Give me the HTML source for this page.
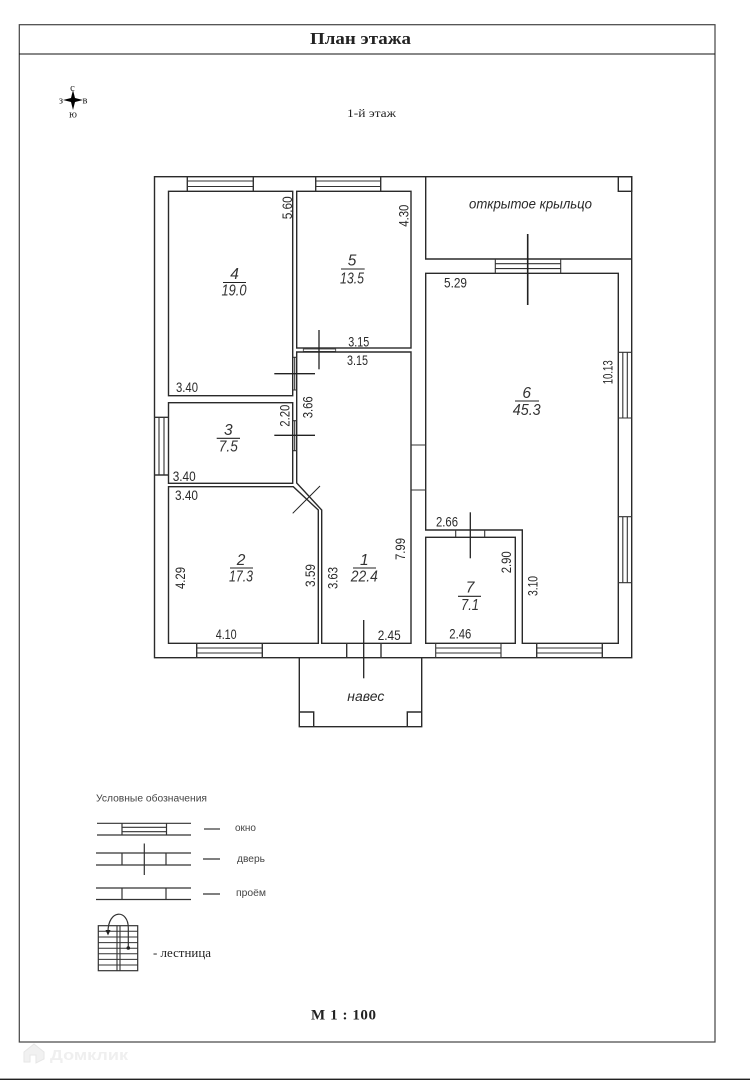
<!DOCTYPE html>
<html lang="ru">
<head>
<meta charset="utf-8">
<title>План этажа</title>
<style>
html,body{margin:0;padding:0;background:#fff;width:750px;height:1080px;overflow:hidden}
svg{display:block;filter:blur(0.35px)}
.w{fill:none;stroke:#2a2a2a;stroke-width:1.4}
.t{stroke:#333;stroke-width:1.1;fill:none}
.d{stroke:#333;stroke-width:1.4;fill:none}
.n{font-family:"Liberation Sans",sans-serif;font-size:13.5px;fill:#2a2a2a}
.r{font-family:"Liberation Sans",sans-serif;font-size:15.5px;font-style:italic;fill:#333;text-anchor:middle}
.s{font-family:"Liberation Serif",serif;fill:#222}
.l{font-family:"Liberation Sans",sans-serif;font-size:10px;fill:#444}
</style>
</head>
<body>
<svg width="750" height="1080" viewBox="0 0 750 1080" xmlns="http://www.w3.org/2000/svg">
<rect width="750" height="1080" fill="#fff"/>
<!-- frame -->
<rect x="19.3" y="24.7" width="695.7" height="1017.3" fill="none" stroke="#444" stroke-width="1.2"/>
<line x1="19" y1="54" x2="715" y2="54" stroke="#111" stroke-width="1.1"/>
<rect x="0" y="1078.6" width="750" height="1.4" fill="#222"/>
<text class="s" x="310" y="44" font-size="17" font-weight="bold" textLength="101" lengthAdjust="spacingAndGlyphs">План этажа</text>
<text class="s" x="347" y="117" font-size="12" fill="#333" textLength="49" lengthAdjust="spacingAndGlyphs">1-й этаж</text>
<text class="s" x="311" y="1019.5" font-size="15" font-weight="bold" textLength="65" lengthAdjust="spacing">М 1 : 100</text>
<!-- compass -->
<path d="M73 90 L75 98 L83 100 L75 102 L73 110 L71 102 L63 100 L71 98 Z" fill="#000"/>
<text class="s" x="72.5" y="91" font-size="10.5" text-anchor="middle">с</text>
<text class="s" x="61" y="103.5" font-size="10.5" text-anchor="middle">з</text>
<text class="s" x="85" y="103.5" font-size="10.5" text-anchor="middle">в</text>
<text class="s" x="73" y="117.5" font-size="10.5" text-anchor="middle">ю</text>

<!-- outer walls -->
<rect class="w" x="154.5" y="176.7" width="477.2" height="481"/>
<!-- rooms -->
<rect class="w" x="168.5" y="191.3" width="124.2" height="204.4"/>
<rect class="w" x="296.7" y="191.3" width="114.3" height="156.7"/>
<path class="w" d="M296.7 352 H411 V643.3 H321.7 V510 L296.7 483 Z"/>
<rect class="w" x="168.5" y="402.7" width="124.2" height="80.6"/>
<path class="w" d="M168.5 486.7 H293.3 L318.3 510 V643.3 H168.5 Z"/>
<path class="w" d="M425.7 273.3 H618.3 V643.3 H522.3 V530 H425.7 Z"/>
<rect class="w" x="425.7" y="537.3" width="89.6" height="106"/>
<path class="w" d="M425.7 176.7 V259 H631.7"/>
<rect class="w" x="618.3" y="176.7" width="13.4" height="14.6"/>
<!-- canopy -->
<path class="w" d="M299.3 657.7 V726.7 H421.7 V657.7"/>
<path class="w" d="M299.3 712 H313.7 V726.7 M421.7 712 H407.3 V726.7"/>

<!-- windows top -->
<g class="t">
<path class="d" d="M187.3 176.7 V191.3 M253.3 176.7 V191.3"/><path d="M187.3 181 H253.3 M187.3 186.5 H253.3"/>
<path class="d" d="M315.7 176.7 V191.3 M380.7 176.7 V191.3"/><path d="M315.7 181 H380.7 M315.7 186.5 H380.7"/>
<path d="M495.3 259 V273.3 M560.7 259 V273.3 M495.3 263.7 H560.7 M495.3 268.6 H560.7"/>
<!-- right windows -->
<path d="M618.3 352.3 H631.7 M618.3 418 H631.7 M622.8 352.3 V418 M627.3 352.3 V418"/>
<path d="M618.3 516.7 H631.7 M618.3 582.7 H631.7 M622.8 516.7 V582.7 M627.3 516.7 V582.7"/>
<!-- left window -->
<path class="d" d="M154.5 417.3 H168.5 M154.5 475 H168.5"/><path d="M159 417.3 V475 M164 417.3 V475"/>
<!-- bottom windows -->
<path class="d" d="M196.7 643.3 V657.7 M262.3 643.3 V657.7"/><path d="M196.7 648 H262.3 M196.7 653 H262.3"/>
<path d="M435.7 643.3 V657.7 M501 643.3 V657.7 M435.7 648 H501 M435.7 653 H501"/>
<path class="d" d="M536.7 643.3 V657.7 M602.3 643.3 V657.7"/><path d="M536.7 648 H602.3 M536.7 653 H602.3"/>
<!-- entry door and opening -->
<path class="d" d="M346.7 643.3 V657.7 M381 643.3 V657.7"/>
<path d="M411 445 H425.7 M411 490 H425.7"/>
<!-- inner door frames -->
<path d="M455.7 530 V537.3 M484.7 530 V537.3"/>
<path d="M292.7 357.3 H296.7 M292.7 390 H296.7 M294.7 357.3 V390"/>
<path d="M292.7 420.7 H296.7 M292.7 450.7 H296.7 M294.7 420.7 V450.7"/>
</g>
<!-- door swings -->
<g stroke="#222" stroke-width="1.3" fill="none">
<path d="M527.7 234 V305" stroke-width="1.6"/>
<path d="M363.7 620 V678.3"/>
<path d="M470.3 512.3 V558.3"/>
<path d="M274.3 373.7 H315"/>
<path d="M274.3 435.3 H315"/>
<path d="M292.7 513.3 L320 486" stroke-width="1"/>
</g>
<!-- door in wall between rooms 5 and 1 -->
<rect x="303.3" y="349" width="32.4" height="2.4" fill="#fff" stroke="#333" stroke-width="0.8"/>
<path d="M319 330 V369.3" stroke="#222" stroke-width="1.3"/>

<!-- dimensions -->
<g class="n">
<text x="176" y="392" textLength="22" lengthAdjust="spacingAndGlyphs">3.40</text>
<text x="348.3" y="346.7" textLength="21" lengthAdjust="spacingAndGlyphs">3.15</text>
<text x="347" y="365" textLength="21" lengthAdjust="spacingAndGlyphs">3.15</text>
<text x="172.7" y="481" textLength="23" lengthAdjust="spacingAndGlyphs">3.40</text>
<text x="175" y="500" textLength="23" lengthAdjust="spacingAndGlyphs">3.40</text>
<text x="215.7" y="639" textLength="21" lengthAdjust="spacingAndGlyphs">4.10</text>
<text x="377.7" y="640" textLength="23" lengthAdjust="spacingAndGlyphs">2.45</text>
<text x="444" y="287.7" textLength="23" lengthAdjust="spacingAndGlyphs">5.29</text>
<text x="436" y="526.7" textLength="22" lengthAdjust="spacingAndGlyphs">2.66</text>
<text x="449.3" y="638.3" textLength="22" lengthAdjust="spacingAndGlyphs">2.46</text>
<text transform="translate(292,219.3) rotate(-90)" textLength="23" lengthAdjust="spacingAndGlyphs">5.60</text>
<text transform="translate(408.3,226.7) rotate(-90)" textLength="22" lengthAdjust="spacingAndGlyphs">4.30</text>
<text transform="translate(312.3,418.3) rotate(-90)" textLength="22" lengthAdjust="spacingAndGlyphs">3.66</text>
<text transform="translate(289.3,426.7) rotate(-90)" textLength="22" lengthAdjust="spacingAndGlyphs">2.20</text>
<text transform="translate(185,589) rotate(-90)" textLength="22" lengthAdjust="spacingAndGlyphs">4.29</text>
<text transform="translate(315,587) rotate(-90)" textLength="23" lengthAdjust="spacingAndGlyphs">3.59</text>
<text transform="translate(337.7,589) rotate(-90)" textLength="22" lengthAdjust="spacingAndGlyphs">3.63</text>
<text transform="translate(405,560) rotate(-90)" textLength="22" lengthAdjust="spacingAndGlyphs">7.99</text>
<text transform="translate(612.3,384.3) rotate(-90)" textLength="24" lengthAdjust="spacingAndGlyphs">10.13</text>
<text transform="translate(511,573.3) rotate(-90)" textLength="22" lengthAdjust="spacingAndGlyphs">2.90</text>
<text transform="translate(537.3,596) rotate(-90)" textLength="20" lengthAdjust="spacingAndGlyphs">3.10</text>
</g>

<!-- room labels -->
<g class="r">
<text x="234.5" y="279">4</text><text x="234" y="295.7" textLength="25" lengthAdjust="spacingAndGlyphs">19.0</text>
<text x="352" y="265.7">5</text><text x="352" y="283.3" textLength="24" lengthAdjust="spacingAndGlyphs">13.5</text>
<text x="228.3" y="435">3</text><text x="228.3" y="451.7" textLength="19" lengthAdjust="spacingAndGlyphs">7.5</text>
<text x="241" y="565">2</text><text x="241" y="581.7" textLength="24" lengthAdjust="spacingAndGlyphs">17.3</text>
<text x="364.3" y="565">1</text><text x="364.3" y="581.7" textLength="27" lengthAdjust="spacingAndGlyphs">22.4</text>
<text x="526.7" y="398">6</text><text x="526.7" y="415" textLength="28" lengthAdjust="spacingAndGlyphs">45.3</text>
<text x="470" y="592.7">7</text><text x="470" y="610" textLength="18" lengthAdjust="spacingAndGlyphs">7.1</text>
</g>
<g stroke="#222" stroke-width="1.1">
<line x1="223" y1="282.5" x2="246" y2="282.5"/>
<line x1="341" y1="269" x2="364.7" y2="269"/>
<line x1="216.7" y1="438.3" x2="240" y2="438.3"/>
<line x1="230" y1="568" x2="253" y2="568"/>
<line x1="353" y1="568" x2="376" y2="568"/>
<line x1="515" y1="401" x2="539" y2="401"/>
<line x1="458" y1="596.3" x2="481" y2="596.3"/>
</g>
<text x="469" y="208.3" font-family="'Liberation Sans',sans-serif" font-size="13.5" font-style="italic" fill="#2a2a2a" textLength="123" lengthAdjust="spacingAndGlyphs">открытое крыльцо</text>
<text x="347.3" y="701" font-family="'Liberation Sans',sans-serif" font-size="13.5" font-style="italic" fill="#2a2a2a" textLength="37" lengthAdjust="spacingAndGlyphs">навес</text>

<!-- legend -->
<text class="l" x="96" y="801.5" textLength="111" lengthAdjust="spacingAndGlyphs">Условные обозначения</text>
<g stroke="#333" stroke-width="1.2" fill="none">
<path d="M97 823.3 H191 M97 835 H191 M122 823.3 V835 M166.5 823.3 V835 M122 827.3 H166.5 M122 831.7 H166.5"/>
<path d="M204 829 H220"/>
<path d="M96 853 H191 M96 865 H191 M122 853 V865 M166 853 V865 M144.3 843.5 V875"/>
<path d="M203 859 H220"/>
<path d="M96 888 H191 M96 899.5 H191 M122 888 V899.5 M166 888 V899.5"/>
<path d="M203 894 H220"/>
<!-- stairs -->
<rect x="98.3" y="925.7" width="39.4" height="45"/>
<path d="M98.3 931.3 H137.7 M98.3 937 H137.7 M98.3 942.6 H137.7 M98.3 948.2 H137.7 M98.3 953.8 H137.7 M98.3 959.4 H137.7 M98.3 965 H137.7" stroke-width="1"/>
<path d="M117 925.7 V970.7 M120 925.7 V970.7" stroke-width="1.1"/>
<path d="M108 932 C108 909 128.3 909 128.3 928 V948" stroke-width="1.2"/>
</g>
<path d="M105.5 930 H110.5 L108 935.5 Z" fill="#222"/>
<circle cx="128.3" cy="948" r="1.8" fill="#222"/>
<text class="l" x="235" y="831" textLength="21" lengthAdjust="spacingAndGlyphs">окно</text>
<text class="l" x="237" y="862" textLength="28" lengthAdjust="spacingAndGlyphs">дверь</text>
<text class="l" x="236" y="896" textLength="30" lengthAdjust="spacingAndGlyphs">проём</text>
<text class="s" x="153" y="957" font-size="13" fill="#333" textLength="58" lengthAdjust="spacingAndGlyphs">- лестница</text>

<!-- watermark -->
<path d="M24 1052 L34 1044 L44 1052 V1059 L36 1063 V1055 H30 V1062 H24 Z" fill="#f1f1f1" stroke="#e6e6e6" stroke-width="1"/>
<text x="50" y="1060" font-family="'Liberation Sans',sans-serif" font-size="15" font-weight="bold" fill="#efefef" textLength="78" lengthAdjust="spacingAndGlyphs">Домклик</text>
</svg>
</body>
</html>
